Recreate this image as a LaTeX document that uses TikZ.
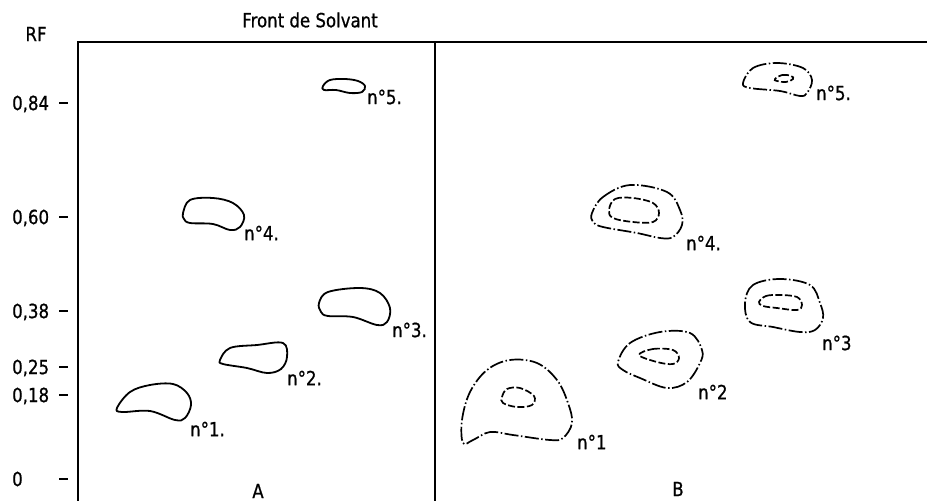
\documentclass[tikz,border=0pt]{standalone}
\usepackage{fontspec}
\setmainfont[FakeStretch=0.85,FakeBold=0.8]{DejaVu Sans}
\begin{document}
\begin{tikzpicture}[x=1pt,y=-1pt,
  lbl/.style={font=\fontsize{19.5}{22}\selectfont, inner sep=0pt},
  spotA/.style={line width=1.8pt, line join=round},
  outerB/.style={line width=1.7pt, dash pattern=on 14pt off 2.5pt on 1.5pt off 2.5pt},
  innerB/.style={line width=1.7pt, dash pattern=on 7pt off 2.5pt},
  frame/.style={line width=1.6pt},
  tick/.style={line width=1.3pt}]
\useasboundingbox (0,0) rectangle (927,501);
% frame
\coordinate (tl) at (78,42);
\coordinate (tm) at (435,42);
\coordinate (tr) at (927,42);
\coordinate (bl) at (78,501);
\coordinate (bm) at (435,501);
\draw[frame] (tr) -- (tl) -- (bl);
\draw[frame] (tm) -- (bm);
% titles
\node[lbl] (rf) at (36,34) {RF};
\node[lbl] (front) at (310,20) {Front de Solvant};
\node[lbl] (pa) at (258,491) {A};
\node[lbl] (pb) at (678,489) {B};
% axis labels and ticks
\node[lbl,anchor=west] (y84) at (12,104) {0,84};
\node[lbl,anchor=west] (y60) at (12,218) {0,60};
\node[lbl,anchor=west] (y38) at (12,312) {0,38};
\node[lbl,anchor=west] (y25) at (12,368) {0,25};
\node[lbl,anchor=west] (y18) at (12,396) {0,18};
\node[lbl,anchor=west] (y0) at (12,479) {0};
\coordinate (k84a) at (59,103); \coordinate (k84b) at (68,103);
\coordinate (k60a) at (59,217); \coordinate (k60b) at (68,217);
\coordinate (k38a) at (59,311); \coordinate (k38b) at (68,311);
\coordinate (k25a) at (59,367); \coordinate (k25b) at (68,367);
\coordinate (k18a) at (59,395); \coordinate (k18b) at (68,395);
\coordinate (k0a) at (59,479); \coordinate (k0b) at (68,479);
\draw[tick] (k84a) -- (k84b);
\draw[tick] (k60a) -- (k60b);
\draw[tick] (k38a) -- (k38b);
\draw[tick] (k25a) -- (k25b);
\draw[tick] (k18a) -- (k18b);
\draw[tick] (k0a) -- (k0b);
% panel A spots
\draw[spotA] plot[smooth cycle, tension=0.6] coordinates {(323,86) (330,80) (345,79) (358,81) (365,86) (362,92) (350,93) (336,90) (324,90)};
\draw[spotA] plot[smooth cycle, tension=0.6] coordinates {(183,213) (190,200) (213,198) (233,203) (244,215) (240,227) (230,230) (213,224) (190,223) (184,219)};
\draw[spotA] plot[smooth cycle, tension=0.6] coordinates {(319,303) (328,292) (360,288) (380,293) (390,308) (387,322) (377,325) (353,317) (328,316) (321,312)};
\draw[spotA] plot[smooth cycle, tension=0.6] coordinates {(220,360) (230,348) (257,345) (283,343) (287,357) (281,369) (267,373) (247,368) (223,364)};
\draw[spotA] plot[smooth cycle, tension=0.6] coordinates {(117,408) (130,392) (150,385) (173,384) (187,393) (191,405) (185,418) (175,420) (150,411) (122,412)};
\node[lbl,anchor=west] (a5) at (367,97) {n°5.};
\node[lbl,anchor=west] (a4) at (244,233) {n°4.};
\node[lbl,anchor=west] (a3) at (392,330) {n°3.};
\node[lbl,anchor=west] (a2) at (287,378) {n°2.};
\node[lbl,anchor=west] (a1) at (190,429) {n°1.};
% panel B spots
\draw[outerB] plot[smooth cycle, tension=0.6] coordinates {(743,83) (753,68) (777,63) (803,68) (812,80) (807,93) (800,96) (780,91) (750,88)};
\draw[innerB] plot[smooth cycle, tension=0.7] coordinates {(775,79) (782,75) (791,76) (793,79) (786,82) (777,81)};
\draw[outerB] plot[smooth cycle, tension=0.6] coordinates {(592,213) (603,197) (630,185) (667,192) (680,210) (682,225) (673,237) (660,238) (637,233) (603,227) (593,222)};
\draw[innerB] plot[smooth cycle, tension=0.6] coordinates {(609,210) (615,199) (633,198) (653,203) (659,213) (653,222) (633,222) (613,218)};
\draw[outerB] plot[smooth cycle, tension=0.6] coordinates {(745,303) (753,285) (780,279) (810,285) (820,303) (823,318) (815,330) (800,332) (773,327) (750,322)};
\draw[innerB] plot[smooth cycle, tension=0.6] coordinates {(759,302) (766,296) (780,295) (797,297) (802,305) (797,310) (777,308) (763,306)};
\draw[outerB] plot[smooth cycle, tension=0.6] coordinates {(618,362) (630,343) (660,332) (690,333) (702,350) (700,363) (687,382) (667,388) (640,378) (623,370)};
\draw[innerB] plot[smooth cycle, tension=0.6] coordinates {(639,355) (653,349) (673,350) (679,358) (673,364) (657,362)};
\draw[outerB] plot[smooth cycle, tension=0.6] coordinates {(463,443) (462,420) (470,392) (487,370) (510,360) (537,363) (557,380) (568,403) (572,423) (563,438) (550,440) (513,435) (490,432) (473,440)};
\draw[innerB] plot[smooth cycle, tension=0.6] coordinates {(502,397) (507,389) (520,388) (534,396) (532,405) (517,407) (503,403)};
\node[lbl,anchor=west] (b5) at (816,93) {n°5.};
\node[lbl,anchor=west] (b4) at (686,243) {n°4.};
\node[lbl,anchor=west] (b3) at (822,343) {n°3};
\node[lbl,anchor=west] (b2) at (698,392) {n°2};
\node[lbl,anchor=west] (b1) at (577,442) {n°1};
\end{tikzpicture}
\end{document}
